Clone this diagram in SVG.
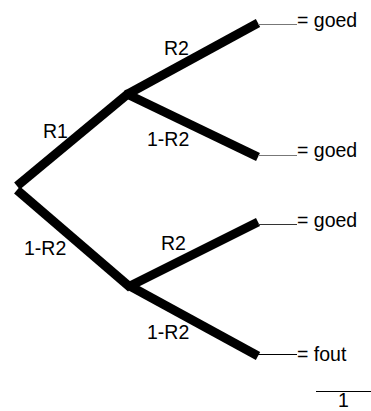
<svg xmlns="http://www.w3.org/2000/svg" width="371" height="411" viewBox="0 0 371 411">
<style>
.b{stroke:#000;stroke-width:9;fill:none;stroke-linecap:butt}
.t{stroke-width:1;fill:none}
text{font-family:"Liberation Sans",Arial,sans-serif;font-size:19.5px;fill:#000}
</style>
<rect width="371" height="411" fill="#fff"/>
<g id="connectors">
<line class="b" x1="17" y1="186" x2="129" y2="93"/>
<line class="b" x1="126" y1="95" x2="258" y2="23"/>
<line class="b" x1="127" y1="94" x2="258" y2="157"/>
<line class="b" x1="17" y1="190" x2="131" y2="288"/>
<line class="b" x1="128" y1="287" x2="258" y2="222"/>
<line class="b" x1="128" y1="285" x2="258" y2="356"/>
<line class="t" stroke="#777" x1="258" y1="24.5" x2="297" y2="24.5"/>
<line class="t" stroke="#777" x1="258" y1="155.5" x2="297" y2="155.5"/>
<line class="t" stroke="#333" x1="258" y1="224.5" x2="297" y2="224.5"/>
<line class="t" stroke="#000" x1="258" y1="354.5" x2="297" y2="354.5"/>
<line class="t" stroke="#000" x1="316" y1="391.5" x2="371" y2="391.5"/>
</g>
<g id="labels">
<text x="164" y="55">R2</text>
<text x="43" y="138">R1</text>
<text x="147" y="146">1-R2</text>
<text x="24" y="255">1-R2</text>
<text x="161" y="250">R2</text>
<text x="147" y="339">1-R2</text>
</g>
<g id="leaf1"><text x="297" y="27">= goed</text></g>
<g id="leaf2"><text x="297" y="157">= goed</text></g>
<g id="leaf3"><text x="297" y="227">= goed</text></g>
<g id="leaf4"><text x="297" y="361">= fout</text></g>
<g id="total"><text x="338" y="407">1</text></g>
</svg>
